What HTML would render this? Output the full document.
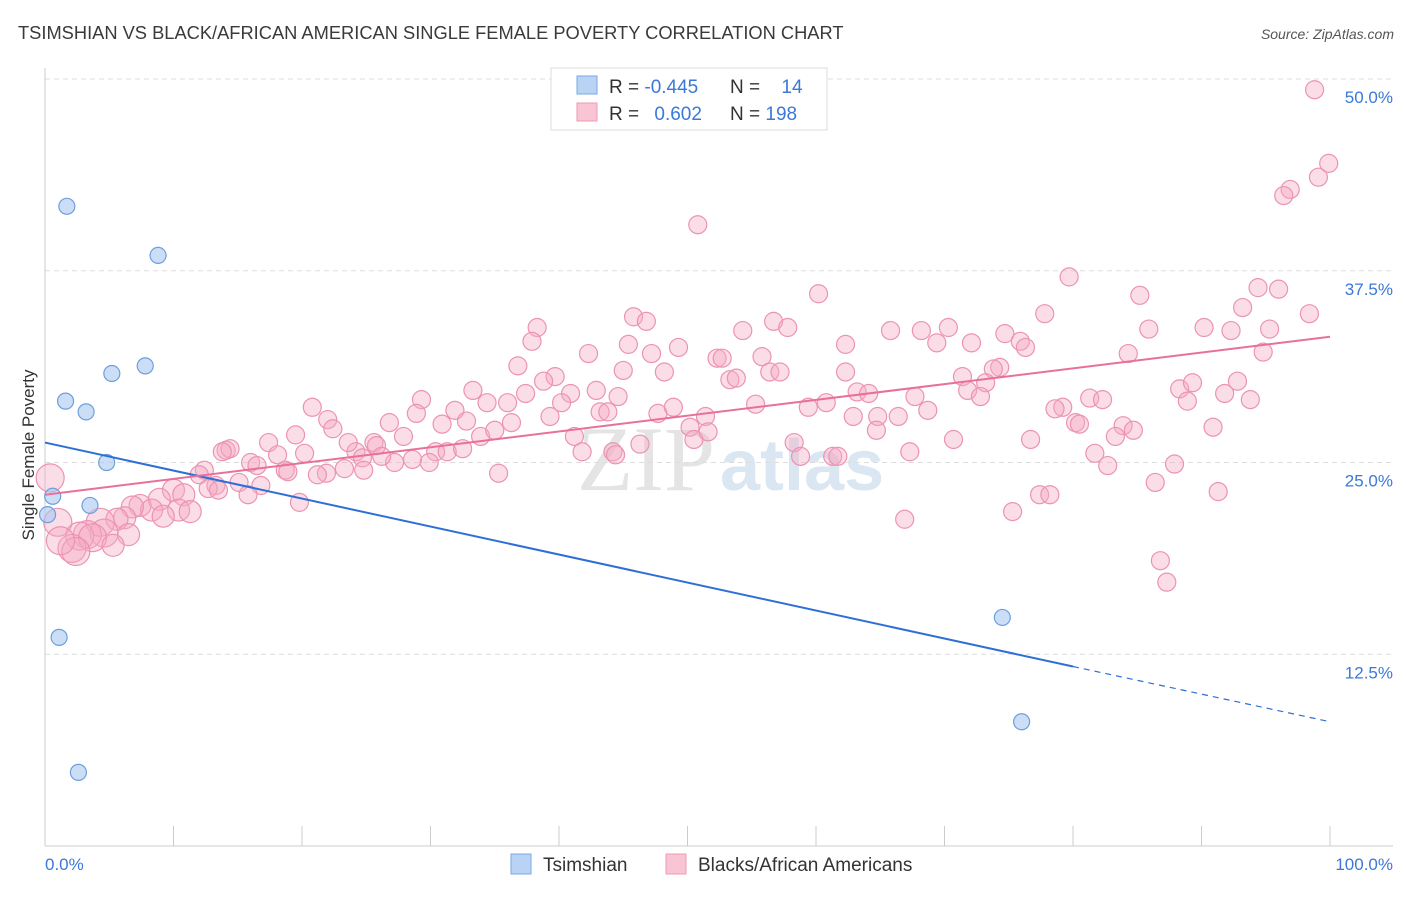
<!DOCTYPE html>
<html><head><meta charset="utf-8"><style>
body{margin:0;background:#fff;font-family:"Liberation Sans",sans-serif}
</style></head><body>
<svg id="c" width="1406" height="892" xmlns="http://www.w3.org/2000/svg" style="font-family:'Liberation Sans',sans-serif">
<text x="18" y="39" font-size="18.3" fill="#3a3a3a">TSIMSHIAN VS BLACK/AFRICAN AMERICAN SINGLE FEMALE POVERTY CORRELATION CHART</text>
<text x="1394" y="39" font-size="14" fill="#555" font-style="italic" text-anchor="end">Source: ZipAtlas.com</text>
<text x="715" y="490" font-size="92" fill="#e4e4e4" text-anchor="end" font-family="Liberation Serif">ZIP</text>
<text x="720" y="490" font-size="72" fill="#dbe6f3" font-weight="bold">atlas</text>
<g id="grid"></g><g id="axes"></g><g id="pts"></g><g id="lines"></g>
<text transform="translate(34,455) rotate(-90)" font-size="17" fill="#333" text-anchor="middle">Single Female Poverty</text>
<g>
<rect x="551" y="68" width="276" height="62" fill="#fff" stroke="#ddd"/>
<rect x="577" y="76" width="20" height="18" fill="#b9d3f5" stroke="#7aa7e4"/>
<rect x="577" y="103" width="20" height="18" fill="#f9c4d4" stroke="#ee9ab6"/>
<text x="609" y="93" font-size="19" fill="#333">R = <tspan fill="#3b78d8">-0.445</tspan></text>
<text x="730" y="93" font-size="19" fill="#333">N = <tspan fill="#3b78d8" dx="16">14</tspan></text>
<text x="609" y="120" font-size="19" fill="#333">R = <tspan fill="#3b78d8" dx="10">0.602</tspan></text>
<text x="730" y="120" font-size="19" fill="#333">N = <tspan fill="#3b78d8">198</tspan></text>
</g>
<g>
<rect x="511" y="854" width="20" height="20" fill="#b9d3f5" stroke="#7aa7e4"/>
<text x="543" y="871" font-size="19" fill="#333">Tsimshian</text>
<rect x="666" y="854" width="20" height="20" fill="#f9c4d4" stroke="#ee9ab6"/>
<text x="698" y="871" font-size="19" fill="#333">Blacks/African Americans</text>
</g>
</svg>
<script>
const yTicks=[12.5,25,37.5,50];
const yTickLabels=["12.5%","25.0%","37.5%","50.0%"];
const xTickLabels=["0.0%","100.0%"];
const blueX=[1.7,8.8,5.2,7.8,1.6,3.2,4.8,0.6,3.5,0.2,1.1,2.6,74.5,76.0];
const blueY=[41.7,38.5,30.8,31.3,29.0,28.3,25.0,22.8,22.2,21.6,13.6,4.8,14.9,8.1];
const pinkX=[98.8,99.9,99.1,96.9,96.4,50.8,79.7,60.2,85.2,94.4,96.0,93.2,98.4,45.8,46.8,38.3,56.7,57.8,54.3,65.8,68.2,70.3,74.7,77.8,85.9,90.2,92.3,95.3,37.9,45.4,49.3,42.3,47.2,52.3,52.7,55.8,62.3,69.4,72.1,75.9,76.3,84.3,94.8,74.3,73.8,36.8,39.7,38.8,45.0,48.2,53.3,53.8,56.4,57.2,62.3,71.4,73.2,33.3,37.4,40.9,42.9,44.6,63.2,64.1,67.7,71.8,72.8,88.3,89.3,91.8,92.8,93.8,88.9,81.3,82.3,79.2,78.6,80.2,80.5,83.9,84.7,83.3,90.9,29.3,31.9,34.4,36.0,20.8,28.9,30.9,32.8,36.3,39.3,40.2,43.2,43.8,47.7,48.9,51.4,55.3,59.4,60.8,62.9,64.8,68.7,66.4,22.0,22.4,26.8,19.5,27.9,33.9,35.0,41.2,50.2,50.5,51.6,64.7,76.7,58.3,70.7,17.4,14.1,14.4,13.8,18.1,20.2,25.6,24.2,23.6,25.8,30.4,31.3,32.5,46.3,44.2,41.8,44.4,27.2,28.6,24.7,26.2,29.9,81.7,82.7,58.8,61.3,61.7,67.3,16.0,16.5,18.7,21.9,21.2,18.9,23.3,24.8,35.3,12.4,12.0,13.3,15.1,16.8,12.7,10.0,10.8,13.5,15.8,19.8,77.4,78.2,86.4,87.9,91.3,75.3,66.9,7.4,8.9,8.3,6.8,6.2,5.6,10.4,11.3,9.2,1.0,4.3,4.6,3.3,2.7,3.7,6.5,5.3,2.1,2.4,0.4,1.2,86.8,87.3];
const pinkY=[49.3,44.5,43.6,42.8,42.4,40.5,37.1,36.0,35.9,36.4,36.3,35.1,34.7,34.5,34.2,33.8,34.2,33.8,33.6,33.6,33.6,33.8,33.4,34.7,33.7,33.8,33.6,33.7,32.9,32.7,32.5,32.1,32.1,31.8,31.8,31.9,32.7,32.8,32.8,32.9,32.5,32.1,32.2,31.2,31.1,31.3,30.6,30.3,31.0,30.9,30.4,30.5,30.9,30.9,30.9,30.6,30.2,29.7,29.5,29.5,29.7,29.3,29.6,29.5,29.3,29.7,29.3,29.8,30.2,29.5,30.3,29.1,29.0,29.2,29.1,28.6,28.5,27.6,27.5,27.4,27.1,26.7,27.3,29.1,28.4,28.9,28.9,28.6,28.2,27.5,27.7,27.6,28.0,28.9,28.3,28.3,28.2,28.6,28.0,28.8,28.6,28.9,28.0,28.0,28.4,28.0,27.8,27.2,27.6,26.8,26.7,26.7,27.1,26.7,27.3,26.5,27.0,27.1,26.5,26.3,26.5,26.3,25.8,25.9,25.7,25.5,25.6,26.3,25.7,26.3,26.1,25.7,25.7,25.9,26.2,25.7,25.7,25.5,25.0,25.2,25.3,25.4,25.0,25.6,24.8,25.4,25.4,25.4,25.7,25.0,24.8,24.5,24.3,24.2,24.4,24.6,24.5,24.3,24.5,24.2,23.5,23.7,23.5,23.3,23.2,22.9,23.2,22.9,22.4,22.9,22.9,23.7,24.9,23.1,21.8,21.3,22.2,22.6,21.9,22.1,21.4,21.3,21.9,21.8,21.5,21.1,21.1,20.4,20.3,20.2,20.1,20.3,19.6,19.4,19.2,24.0,19.9,18.6,17.2];
const blueTrend=[26.3,11.7,8.1];
const blueTrendX=[0,80,100];
const pinkTrend=[22.9,33.2];
const pinkTrendX=[0,100];

const X0=45,X1=1330,Y0=846,YS=15.34;
const sx=v=>X0+(X1-X0)*v/100, sy=v=>Y0-v*YS;
const NS="http://www.w3.org/2000/svg";
function mk(t,a,p){const e=document.createElementNS(NS,t);for(const k in a)e.setAttribute(k,a[k]);p.appendChild(e);return e;}
const gGrid=document.getElementById('grid'),gAxes=document.getElementById('axes'),gPts=document.getElementById('pts'),gLines=document.getElementById('lines');
const gridTop=mk('line',{x1:X0,x2:1393,y1:79,y2:79,stroke:'#ddd','stroke-dasharray':'5,4'},gGrid);


yTicks.forEach((t,i)=>{
 if(t<50){const g=mk('line',{x1:X0,x2:1393,y1:sy(t),y2:sy(t),stroke:'#ddd','stroke-dasharray':'5,4'},gGrid);
 
 }
 const lbl=mk('text',{x:1393,y:(t<50?sy(t):79)+24,'font-size':17,fill:'#3b78d8','text-anchor':'end'},gAxes);
 lbl.textContent=yTickLabels[i];
 
 
});
const ya=mk('line',{x1:X0,x2:X0,y1:68,y2:Y0,stroke:'#ccc'},gAxes);


const xa=mk('line',{x1:X0,x2:1393,y1:Y0,y2:Y0,stroke:'#ccc'},gAxes);


for(let i=1;i<=10;i++){const tk=mk('line',{x1:sx(i*10),x2:sx(i*10),y1:826,y2:Y0,stroke:'#ccc'},gAxes);
 
 }
const xl0=mk('text',{x:45,y:870,'font-size':17,fill:'#3b78d8'},gAxes);xl0.textContent=xTickLabels[0];


const xl1=mk('text',{x:1393,y:870,'font-size':17,fill:'#3b78d8','text-anchor':'end'},gAxes);xl1.textContent=xTickLabels[1];


pinkX.forEach((x,i)=>{const r=x<5?14:x<12?11:9;
 const c=mk('circle',{cx:sx(x),cy:sy(pinkY[i]),r:r,fill:'rgba(246,170,196,0.4)',stroke:'#ec93b2','stroke-width':1.2},gPts);
 
 });
blueX.forEach((x,i)=>{const c=mk('circle',{cx:sx(x),cy:sy(blueY[i]),r:8,fill:'rgba(170,200,240,0.6)',stroke:'#6c9fe0','stroke-width':1.2},gPts);
 
 });
const bl=mk('line',{x1:sx(blueTrendX[0]),y1:sy(blueTrend[0]),x2:sx(blueTrendX[1]),y2:sy(blueTrend[1]),stroke:'#2d6fd6','stroke-width':2},gLines);


const bd=mk('line',{x1:sx(blueTrendX[1]),y1:sy(blueTrend[1]),x2:sx(blueTrendX[2]),y2:sy(blueTrend[2]),stroke:'#2d6fd6','stroke-width':1.2,'stroke-dasharray':'6,5'},gLines);


const pl=mk('line',{x1:sx(pinkTrendX[0]),y1:sy(pinkTrend[0]),x2:sx(pinkTrendX[1]),y2:sy(pinkTrend[1]),stroke:'#e8709a','stroke-width':2},gLines);


</script>
</body></html>
